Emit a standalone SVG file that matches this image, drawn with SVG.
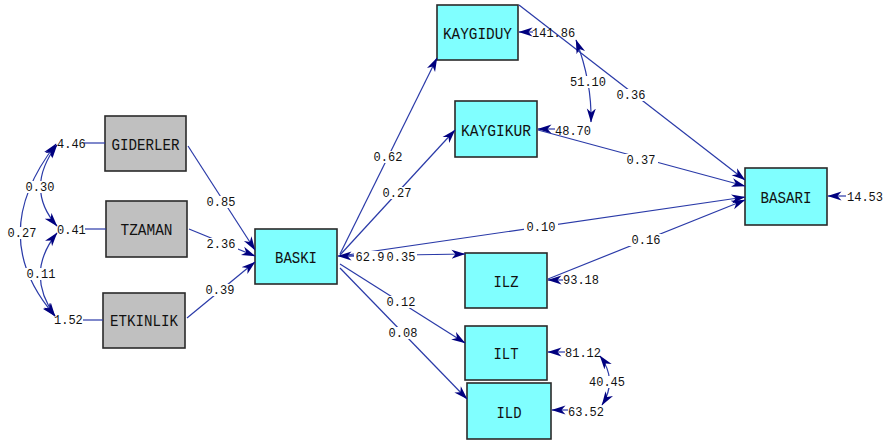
<svg xmlns="http://www.w3.org/2000/svg" width="884" height="444" viewBox="0 0 884 444">
  <style>
    .box rect { stroke: #2a2a2a; stroke-width: 1.6; }
    .obs rect { fill: #80ffff; }
    .exo rect { fill: #c0c0c0; }
    .box text { font-family: "Liberation Mono", "DejaVu Sans Mono", monospace; font-size: 17px; fill: #111; text-anchor: middle; }
    .ln { fill: none; stroke: #2a3aa8; stroke-width: 1.2; }
    .ln.arr { marker-end: url(#ah); }
    .ln.two { marker-start: url(#ah); marker-end: url(#ah); }
    .num { font-family: "Liberation Mono", "DejaVu Sans Mono", monospace; font-size: 12px; fill: #111; }
    .pl { text-anchor: middle; }
    .vl { text-anchor: start; }
    .bg rect { fill: #fff; height: 12px; }
  </style>
  <defs>
    <marker id="ah" markerUnits="userSpaceOnUse" markerWidth="15" markerHeight="11" refX="13.5" refY="5" orient="auto-start-reverse">
      <path d="M0,0.5 L14,5 L0,9.5 L4,5 z" fill="#00007f"/>
    </marker>
  </defs>

  <rect width="884" height="444" fill="#fff"/>

  <!-- nodes -->
  <g id="GIDERLER" class="box exo"><rect x="105" y="116" width="81" height="55"/><text x="145.5" y="150" textLength="68" lengthAdjust="spacingAndGlyphs">GIDERLER</text></g>
  <g id="TZAMAN" class="box exo"><rect x="106" y="201" width="81" height="56"/><text x="146.5" y="235" textLength="52" lengthAdjust="spacingAndGlyphs">TZAMAN</text></g>
  <g id="ETKINLIK" class="box exo"><rect x="103" y="293" width="82" height="55"/><text x="144" y="326" textLength="68" lengthAdjust="spacingAndGlyphs">ETKINLIK</text></g>
  <g id="BASKI" class="box obs"><rect x="255" y="229" width="82" height="55"/><text x="296" y="263" textLength="42" lengthAdjust="spacingAndGlyphs">BASKI</text></g>
  <g id="KAYGIDUY" class="box obs"><rect x="437" y="5" width="81" height="55"/><text x="477.5" y="39" textLength="69" lengthAdjust="spacingAndGlyphs">KAYGIDUY</text></g>
  <g id="KAYGIKUR" class="box obs"><rect x="455" y="101" width="82" height="56"/><text x="496" y="136" textLength="70" lengthAdjust="spacingAndGlyphs">KAYGIKUR</text></g>
  <g id="ILZ" class="box obs"><rect x="465" y="253" width="82" height="55"/><text x="506" y="287" textLength="25" lengthAdjust="spacingAndGlyphs">ILZ</text></g>
  <g id="ILT" class="box obs"><rect x="465" y="326" width="82" height="54"/><text x="506" y="359" textLength="25" lengthAdjust="spacingAndGlyphs">ILT</text></g>
  <g id="ILD" class="box obs"><rect x="467" y="383" width="84" height="56"/><text x="509" y="418" textLength="25" lengthAdjust="spacingAndGlyphs">ILD</text></g>
  <g id="BASARI" class="box obs"><rect x="745" y="168" width="82" height="57"/><text x="786" y="203" textLength="51" lengthAdjust="spacingAndGlyphs">BASARI</text></g>

  <!-- connectors -->
  <g id="connectors">
    <!-- exogenous variances and covariances -->
    <path class="ln" d="M84,143 L105,143"/>
    <path class="ln" d="M85,229 L106,229"/>
    <path class="ln" d="M83,320 L103,320"/>
    <path class="ln two" d="M57,145 Q24,188.5 57,226"/>
    <path class="ln two" d="M56,144 Q-15,235.5 55,316"/>
    <path class="ln two" d="M57,233 Q24.5,273.5 55,316"/>

    <!-- paths into BASKI -->
    <path class="ln arr" d="M188,146 L255,250"/>
    <path class="ln arr" d="M189,229 L255,256"/>
    <path class="ln arr" d="M187,318 L255,262"/>

    <!-- paths out of BASKI -->
    <path class="ln arr" d="M340,254 L437,58"/>
    <path class="ln arr" d="M340,255 L455,130"/>
    <path class="ln arr" d="M340,256 L745,197"/>
    <path class="ln arr" d="M340,256 L465,254"/>
    <path class="ln arr" d="M340,264 L465,343"/>
    <path class="ln arr" d="M340,268 L467,399"/>

    <!-- paths into BASARI -->
    <path class="ln arr" d="M519,5 L745,180"/>
    <path class="ln arr" d="M538,130 L745,186"/>
    <path class="ln arr" d="M548,279 L745,200"/>

    <!-- error variances -->
    <path class="ln arr" d="M356,256 L338,256"/>
    <path class="ln arr" d="M533,32 L519,32"/>
    <path class="ln arr" d="M555,129 L538,129"/>
    <path class="ln arr" d="M563,280 L548,280"/>
    <path class="ln arr" d="M565,352 L548,352"/>
    <path class="ln arr" d="M568,410 L552,410"/>
    <path class="ln arr" d="M846,196 L828,196"/>

    <!-- error covariances -->
    <path class="ln two" d="M576,40 Q592,82 591,122"/>
    <path class="ln two" d="M600,356 Q618,380 602,405"/>
  </g>

  <!-- white gaps behind the labels that sit on a line -->
  <g class="bg">
    <rect x="23" y="181" width="34"/>
    <rect x="5" y="227" width="34"/>
    <rect x="24" y="268" width="34"/>
    <rect x="204" y="196" width="34"/>
    <rect x="204" y="238" width="34"/>
    <rect x="203" y="284" width="34"/>
    <rect x="371" y="151" width="34"/>
    <rect x="380" y="187" width="34"/>
    <rect x="524" y="221" width="34"/>
    <rect x="354" y="251" width="63"/>
    <rect x="384" y="296" width="34"/>
    <rect x="386" y="327" width="34"/>
    <rect x="614" y="89" width="34"/>
    <rect x="624" y="154" width="34"/>
    <rect x="629" y="234" width="34"/>
    <rect x="568" y="76" width="40"/>
    <rect x="587" y="376" width="40"/>
  </g>

  <!-- coefficient labels -->
  <g id="labels" class="num">
    <text class="vl" x="57" y="148">4.46</text>
    <text class="vl" x="57" y="234">0.41</text>
    <text class="vl" x="54" y="324">1.52</text>
    <text class="pl" x="40" y="191">0.30</text>
    <text class="pl" x="22" y="237">0.27</text>
    <text class="pl" x="41" y="278">0.11</text>

    <text class="pl" x="221" y="206">0.85</text>
    <text class="pl" x="221" y="248">2.36</text>
    <text class="pl" x="220" y="294">0.39</text>

    <text class="pl" x="388" y="161">0.62</text>
    <text class="pl" x="397" y="197">0.27</text>
    <text class="pl" x="541" y="231">0.10</text>
    <text class="pl" x="370" y="261">62.9</text>
    <text class="pl" x="401" y="261">0.35</text>
    <text class="pl" x="401" y="306">0.12</text>
    <text class="pl" x="403" y="337">0.08</text>

    <text class="pl" x="631" y="99">0.36</text>
    <text class="pl" x="641" y="164">0.37</text>
    <text class="pl" x="646" y="244">0.16</text>

    <text class="vl" x="532" y="37">141.86</text>
    <text class="pl" x="588" y="86">51.10</text>
    <text class="vl" x="555" y="135">48.70</text>
    <text class="vl" x="563" y="284">93.18</text>
    <text class="vl" x="565" y="357">81.12</text>
    <text class="pl" x="607" y="386">40.45</text>
    <text class="vl" x="568" y="416">63.52</text>
    <text class="vl" x="847" y="201">14.53</text>
  </g>
</svg>
